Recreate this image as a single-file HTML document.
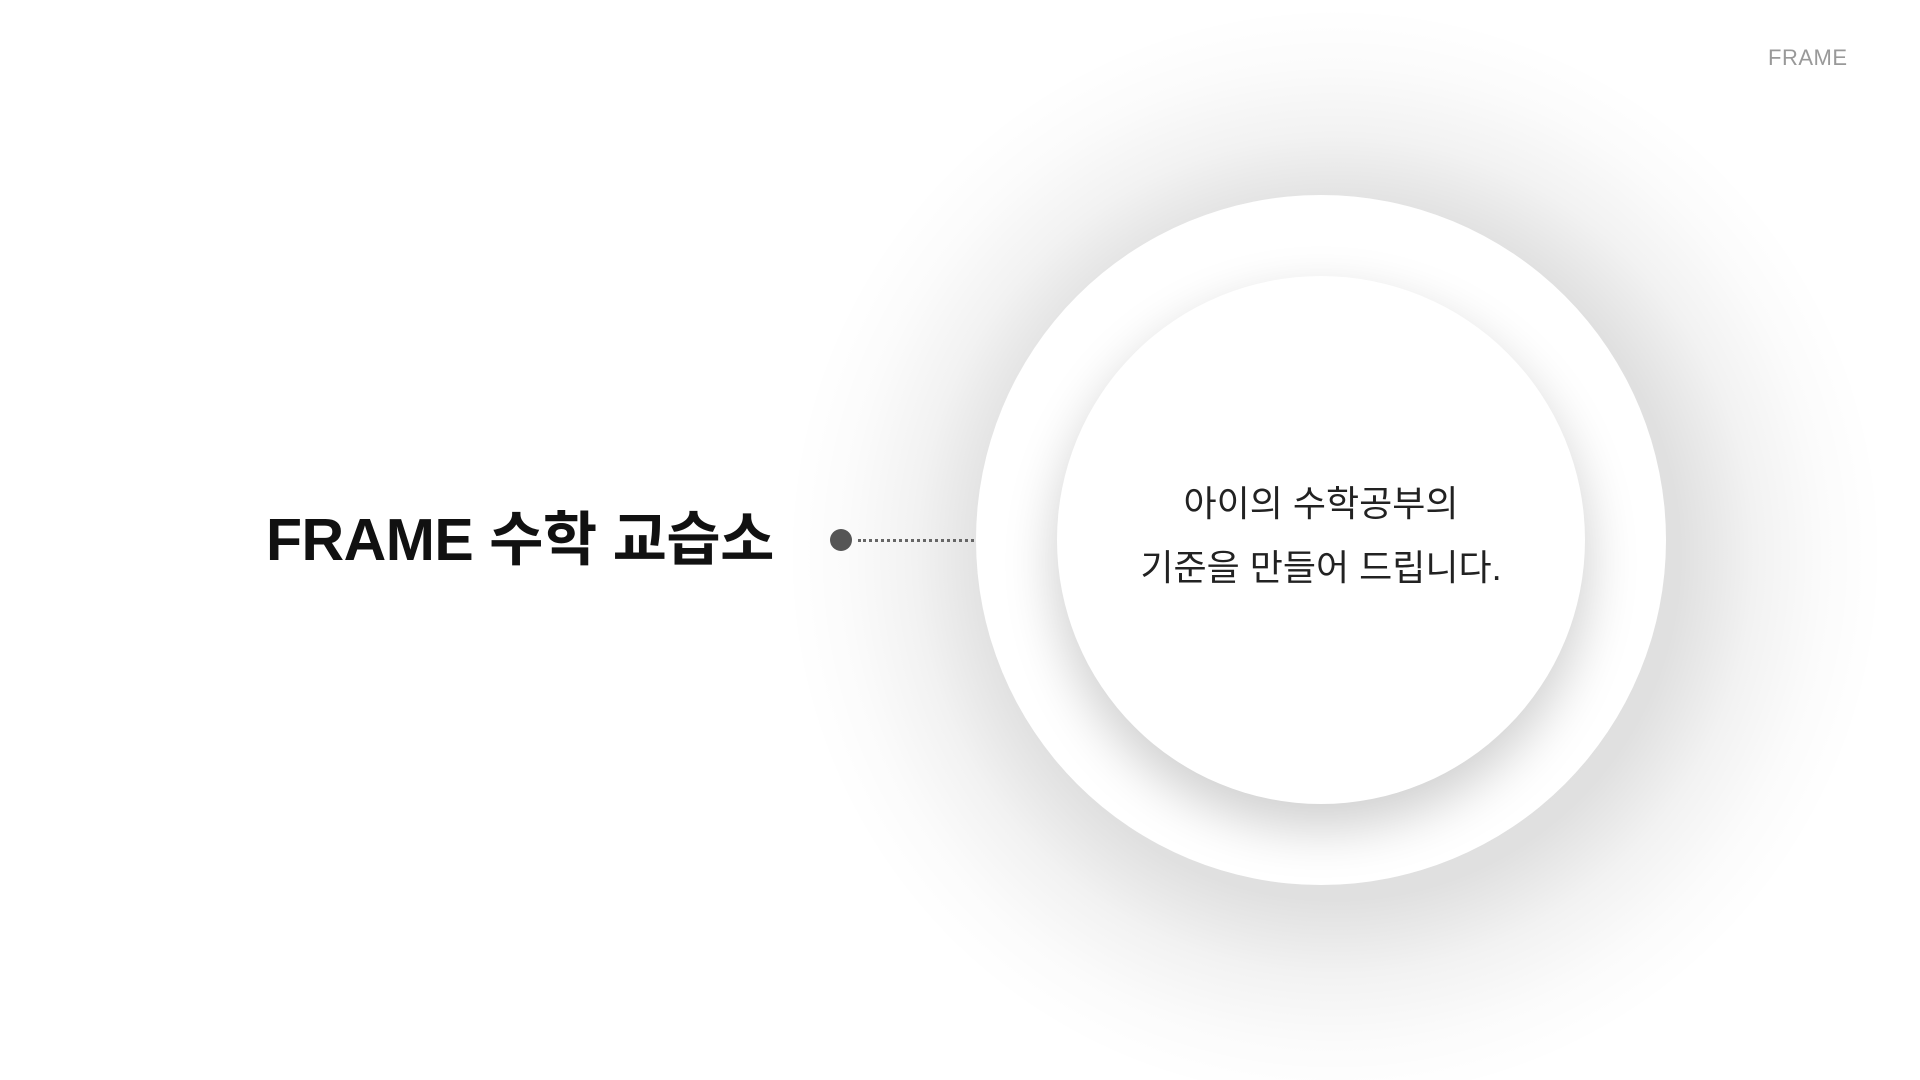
<!DOCTYPE html>
<html><head><meta charset="utf-8"><style>
html,body{margin:0;padding:0;width:1920px;height:1080px;background:#fff;overflow:hidden;font-family:"Liberation Sans","Noto Sans CJK KR",sans-serif}
.abs{position:absolute}
.glow{left:0;top:0;width:1920px;height:1080px;background:radial-gradient(circle at 1335px 555px, rgba(0,0,0,0.16) 0px, rgba(0,0,0,0.12) 345px, rgba(0,0,0,0.05) 420px, rgba(0,0,0,0.015) 490px, rgba(0,0,0,0) 550px)}
.outer{left:976px;top:195px;width:690px;height:690px;border-radius:50%;background:#fff}
.inner{left:1057px;top:276px;width:528px;height:528px;border-radius:50%;background:#fff;box-shadow:0 22px 50px 4px rgba(0,0,0,0.18)}
.title{left:266px;top:504px;font-size:59px;font-weight:bold;color:#111;white-space:nowrap;line-height:72px;letter-spacing:-0.5px}
.dot{left:830px;top:529px;width:22px;height:22px;border-radius:50%;background:#555}
.line{left:858px;top:539px;width:116px;border-top:3px dotted #666}
.txt{left:1057px;top:472px;width:528px;text-align:center;font-size:36px;color:#222;line-height:64px}
.brand{left:1768px;top:45px;font-size:22px;color:#999;letter-spacing:0.5px}
</style></head><body>
<div class="abs glow"></div>
<div class="abs outer"></div>
<div class="abs inner"></div>
<div class="abs txt">아이의 수학공부의<br>기준을 만들어 드립니다.</div>
<div class="abs title">FRAME 수학 교습소</div>
<div class="abs dot"></div>
<div class="abs line"></div>
<div class="abs brand">FRAME</div>
</body></html>
